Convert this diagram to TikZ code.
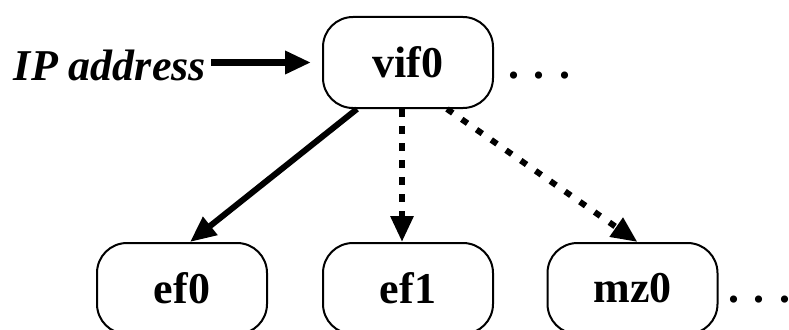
\documentclass[tikz,border=0pt]{standalone}
\usepackage{fontspec}
\setmainfont{Liberation Serif}
\usetikzlibrary{calc,arrows.meta}
\begin{document}
\begin{tikzpicture}[x=1pt,y=-1pt,
  bigfont/.style={font=\fontsize{44}{48}\selectfont\bfseries},
  box/.style={draw, line width=2pt, rounded corners=30pt,
    minimum width=170pt, minimum height=91pt, inner sep=0pt, bigfont},
  label/.style={inner sep=0pt, bigfont},
  link/.style={line width=6pt, -{Triangle[length=26pt,width=22pt]}},
  dashlink/.style={link, dash pattern=on 8pt off 9pt},
  dotlink/.style={link, dash pattern=on 7pt off 11pt}]
\useasboundingbox (0,0) rectangle (789,329);

% interface boxes
\node[box] (vif) at (408,62.5) {vif0};
\node[box] (ef0) at (182,288.5) {ef0};
\node[box] (ef1) at (408,288.5) {ef1};
\node[box] (mz0) at (632.5,288.5) {mz0};

% ellipses after the rows
\node[label, anchor=base west] (more1) at (508,78) {. . .};
\node[label, anchor=base west] (more2) at (728,302) {. . .};

% incoming address
\node[label, anchor=base east, font=\fontsize{44}{48}\selectfont\bfseries\itshape] (ip) at (206,80) {IP address};
\draw[link, line width=7pt, shorten <=5pt, shorten >=11pt] (ip.east |- vif.west) -- (vif.west);

% links to the lower interfaces
\draw[link] ($(vif.south)+(-51,0)$) -- ($(ef0.north)+(8,0)$);
\draw[dashlink] ($(vif.south)+(-6,0)$) -- ($(ef1.north)+(-6,0)$);
\draw[dotlink] ($(vif.south)+(39,0)$) -- ($(mz0.north)+(5,0)$);
\end{tikzpicture}
\end{document}
